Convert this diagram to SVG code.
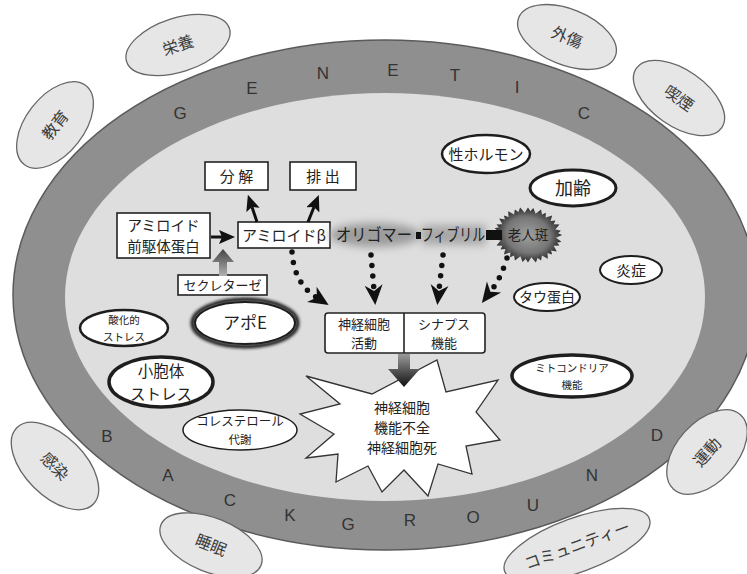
<svg xmlns="http://www.w3.org/2000/svg" width="747" height="574" viewBox="0 0 747 574">
  <style>
    text { font-family: "Noto Sans CJK JP", "Liberation Sans", sans-serif; fill: #222; text-anchor: middle; }
    .band { font-family: "Liberation Sans", sans-serif; font-size: 17px; fill: #333; }
    .sat ellipse { fill: #e6e6e6; stroke: #666; stroke-width: 1.3; }
    .sat text { font-size: 16px; fill: #3a3a3a; }
    .oval ellipse { fill: #fff; stroke: #1e1e1e; }
    .box rect { fill: #fff; stroke: #222; stroke-width: 1.6; }
    .dots { fill: none; stroke: #111; stroke-width: 5.5; stroke-linecap: round; stroke-dasharray: 0 10.5; marker-end: url(#dotHead); }
    .solid { fill: none; stroke: #111; stroke-width: 3; marker-end: url(#solidHead); }
  </style>
  <defs>
    <marker id="dotHead" viewBox="0 0 20 20" refX="5" refY="10" markerWidth="20" markerHeight="20" markerUnits="userSpaceOnUse" orient="auto">
      <path d="M0,1 L20,10 L0,19 L6,10 z" fill="#111"/>
    </marker>
    <marker id="solidHead" viewBox="0 0 16 14" refX="3" refY="7" markerWidth="16" markerHeight="14" markerUnits="userSpaceOnUse" orient="auto">
      <path d="M0,0 L16,7 L0,14 L3,7 z" fill="#111"/>
    </marker>
    <linearGradient id="upGrad" x1="0" y1="1" x2="0" y2="0">
      <stop offset="0" stop-color="#b0b0b0"/>
      <stop offset="1" stop-color="#444"/>
    </linearGradient>
    <linearGradient id="downGrad" x1="0" y1="0" x2="0" y2="1">
      <stop offset="0" stop-color="#9a9a9a"/>
      <stop offset="1" stop-color="#111"/>
    </linearGradient>
    <radialGradient id="plaqueGrad" cx="0.5" cy="0.5" r="0.5">
      <stop offset="0" stop-color="#a0a0a0"/>
      <stop offset="0.65" stop-color="#767676"/>
      <stop offset="1" stop-color="#2a2a2a"/>
    </radialGradient>
    <filter id="soft" x="-30%" y="-60%" width="160%" height="220%">
      <feGaussianBlur stdDeviation="4"/>
    </filter>
    <filter id="rimBlur" x="-20%" y="-40%" width="140%" height="180%">
      <feGaussianBlur stdDeviation="1.4"/>
    </filter>
    <polygon id="spikes" points="559,235 551.5,238.5 556.6,244.6 547.9,245 549.9,252.7 541.3,250 539.9,258.1 532.7,252.7 528,260 523.3,252.7 516.1,258.1 514.7,250 506.1,252.7 508.1,245 499.4,244.6 504.5,238.5 497,235 504.5,231.5 499.4,225.4 508.1,225 506.1,217.3 514.7,220 516.1,211.9 523.3,217.3 528,210 532.7,217.3 539.9,211.9 541.3,220 549.9,217.3 547.9,225 556.6,225.4 551.5,231.5"/>
  </defs>

  <rect width="747" height="574" fill="#fff"/>

  <!-- genetic / background rings -->
  <g id="ring-outer">
    <ellipse cx="385" cy="295" rx="372" ry="255" fill="#8f8f8f" stroke="#5a5a5a" stroke-width="1.5"/>
  </g>
  <g id="ring-inner">
    <ellipse cx="385" cy="297" rx="320" ry="204" fill="#dedede"/>
  </g>

  <g id="band-letters">
    <text class="band" x="180" y="119">G</text>
    <text class="band" x="252" y="94">E</text>
    <text class="band" x="323" y="79">N</text>
    <text class="band" x="393" y="76">E</text>
    <text class="band" x="455" y="81">T</text>
    <text class="band" x="517" y="93">I</text>
    <text class="band" x="584" y="119">C</text>
    <text class="band" x="107" y="442">B</text>
    <text class="band" x="168" y="481">A</text>
    <text class="band" x="230" y="506">C</text>
    <text class="band" x="290" y="521">K</text>
    <text class="band" x="348" y="530">G</text>
    <text class="band" x="410" y="526">R</text>
    <text class="band" x="473" y="523">O</text>
    <text class="band" x="533" y="511">U</text>
    <text class="band" x="592" y="481">N</text>
    <text class="band" x="657" y="441">D</text>
  </g>

  <!-- outside factors -->
  <g id="sat-eiyou" class="sat" transform="translate(178,45) rotate(-18)">
    <ellipse rx="54" ry="27"/><text y="6">栄養</text>
  </g>
  <g id="sat-kyouiku" class="sat" transform="translate(55,125) rotate(-52)">
    <ellipse rx="50" ry="29"/><text y="6">教育</text>
  </g>
  <g id="sat-gaishou" class="sat" transform="translate(567,37) rotate(22)">
    <ellipse rx="52" ry="28"/><text y="6">外傷</text>
  </g>
  <g id="sat-kitsuen" class="sat" transform="translate(679,98) rotate(35)">
    <ellipse rx="52" ry="28"/><text y="6">喫煙</text>
  </g>
  <g id="sat-kansen" class="sat" transform="translate(55,466) rotate(45)">
    <ellipse rx="54" ry="30"/><text y="6">感染</text>
  </g>
  <g id="sat-suimin" class="sat" transform="translate(211,545) rotate(22)">
    <ellipse rx="54" ry="27"/><text y="6">睡眠</text>
  </g>
  <g id="sat-undou" class="sat" transform="translate(707,452) rotate(-48)">
    <ellipse rx="50" ry="30"/><text y="6">運動</text>
  </g>
  <g id="sat-community" class="sat" transform="translate(577,545) rotate(-20)">
    <ellipse rx="77" ry="27"/><text y="6">コミュニティー</text>
  </g>

  <!-- modulating factors inside -->
  <g id="oval-hormone" class="oval">
    <ellipse cx="486" cy="154" rx="44" ry="19" stroke-width="2.5"/>
    <text x="486" y="160" font-size="15">性ホルモン</text>
  </g>
  <g id="oval-aging" class="oval">
    <ellipse cx="573" cy="188" rx="43" ry="18" stroke-width="3"/>
    <text x="573" y="195" font-size="18">加齢</text>
  </g>
  <g id="oval-inflammation" class="oval">
    <ellipse cx="631" cy="270" rx="31" ry="14" stroke-width="2"/>
    <text x="631" y="276" font-size="15">炎症</text>
  </g>
  <g id="oval-tau" class="oval">
    <ellipse cx="547" cy="297" rx="33" ry="14" stroke-width="2"/>
    <text x="547" y="302" font-size="14">タウ蛋白</text>
  </g>
  <g id="oval-mito" class="oval">
    <ellipse cx="572" cy="376" rx="60" ry="21" stroke-width="3.5"/>
    <text x="572" y="372" font-size="10.5">ミトコンドリア</text>
    <text x="572" y="389" font-size="10.5">機能</text>
  </g>
  <g id="oval-oxidative" class="oval">
    <ellipse cx="124" cy="328" rx="44" ry="18" stroke-width="2.5"/>
    <text x="124" y="324" font-size="10.5">酸化的</text>
    <text x="124" y="341" font-size="10.5">ストレス</text>
  </g>
  <g id="oval-apoe" class="oval">
    <ellipse cx="245" cy="323" rx="52" ry="23" fill="none" stroke="#111" stroke-width="5" filter="url(#rimBlur)"/>
    <ellipse cx="245" cy="323" rx="50" ry="21" stroke-width="2"/>
    <text x="245" y="329" font-size="17">アポE</text>
  </g>
  <g id="oval-er" class="oval">
    <ellipse cx="161" cy="382" rx="52" ry="25" stroke-width="3.5"/>
    <text x="161" y="377" font-size="15.5">小胞体</text>
    <text x="161" y="400" font-size="15.5">ストレス</text>
  </g>
  <g id="oval-cholesterol" class="oval">
    <ellipse cx="240" cy="430" rx="57" ry="20" stroke-width="1.5"/>
    <text x="240" y="426" font-size="12.5">コレステロール</text>
    <text x="240" y="444" font-size="11.5">代謝</text>
  </g>

  <!-- amyloid pathway -->
  <g id="box-degradation" class="box">
    <rect x="205" y="162" width="63" height="28"/>
    <text x="236.5" y="182" font-size="15">分 解</text>
  </g>
  <g id="box-excretion" class="box">
    <rect x="290" y="162" width="66" height="28"/>
    <text x="323" y="182" font-size="15">排 出</text>
  </g>
  <g id="box-app" class="box">
    <rect x="117" y="213" width="93" height="45"/>
    <text x="163.5" y="231" font-size="14.5">アミロイド</text>
    <text x="163.5" y="252" font-size="14.5">前駆体蛋白</text>
  </g>
  <g id="box-abeta" class="box">
    <rect x="238" y="222" width="92" height="26"/>
    <text x="284" y="241" font-size="15">アミロイドβ</text>
  </g>
  <g id="box-secretase" class="box">
    <rect x="178" y="275" width="89" height="20" fill="#f4f4f4" stroke="#444" stroke-width="1.2"/>
    <text x="222.5" y="290" font-size="13">セクレターゼ</text>
  </g>

  <g id="oligomer">
    <ellipse cx="375" cy="235" rx="46" ry="12" fill="#9c9c9c" filter="url(#soft)"/>
    <text x="374" y="241" font-size="17" textLength="76" lengthAdjust="spacingAndGlyphs">オリゴマー</text>
  </g>
  <g id="fibril">
    <rect x="422" y="225" width="64" height="20" fill="#a8a8a8" filter="url(#soft)"/>
    <text x="453" y="241" font-size="17" textLength="64" lengthAdjust="spacingAndGlyphs">フィブリル</text>
  </g>
  <g id="plaque">
    <use href="#spikes" fill="url(#plaqueGrad)" transform="translate(528,235) scale(1.1) translate(-528,-235)"/>
    <use href="#spikes" fill="url(#plaqueGrad)" transform="translate(528,235) scale(1.1) rotate(11.25) translate(-528,-235)"/>
    <text x="528" y="240" font-size="13.5" fill="#111">老人斑</text>
  </g>

  <g id="box-neuron" class="box">
    <rect x="325" y="313" width="160" height="40" rx="3" stroke-width="2.2"/>
    <line x1="404" y1="313" x2="404" y2="353" stroke="#222" stroke-width="1.6"/>
    <text x="364" y="329" font-size="13">神経細胞</text>
    <text x="364" y="348" font-size="13">活動</text>
    <text x="444" y="329" font-size="13">シナプス</text>
    <text x="444" y="348" font-size="13">機能</text>
  </g>

  <g id="burst-outcome">
    <polygon fill="#fff" stroke="#333" stroke-width="1.3" points="306,376 372,394 437,360 446,392 498,380 476,412 500,440 466,446 472,474 438,464 428,496 404,470 382,492 368,466 336,482 338,454 306,458 334,434 300,414 340,404"/>
    <text x="402" y="413" font-size="14">神経細胞</text>
    <text x="402" y="433" font-size="14">機能不全</text>
    <text x="402" y="453" font-size="14">神経細胞死</text>
  </g>

  <!-- connectors -->
  <g id="connectors">
    <path class="solid" d="M211,237 L222,237"/>
    <path class="solid" d="M257,222 L252,207"/>
    <path class="solid" d="M308,222 L314,207"/>
    <path d="M219,276 L219,262 L212,262 L223,249 L234,262 L227,262 L227,276 Z" fill="url(#upGrad)"/>
    <rect x="416" y="232" width="5" height="7" fill="#111"/>
    <rect x="486" y="230" width="16" height="10" fill="#111"/>
    <path class="dots" d="M292,252 Q294,283 316,297"/>
    <path class="dots" d="M371,255 L374,290"/>
    <path class="dots" d="M443,255 L439,290"/>
    <path class="dots" d="M507,258 Q501,278 491,291"/>
    <path d="M398,354 L410,354 L410,369 L420,369 L404,387 L388,369 L398,369 Z" fill="url(#downGrad)"/>
  </g>
</svg>
